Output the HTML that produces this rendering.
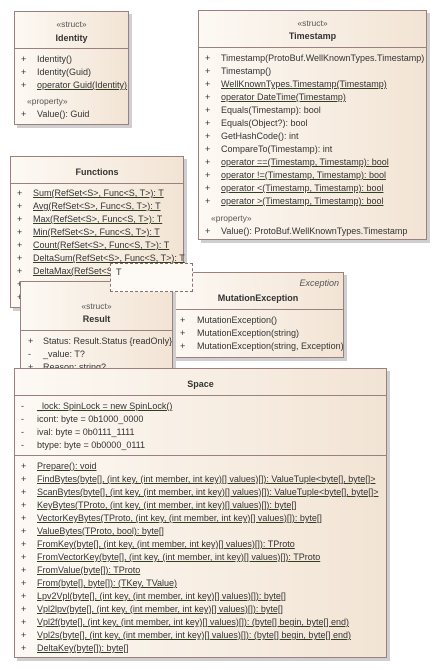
<!DOCTYPE html>
<html><head><meta charset="utf-8"><style>
body{margin:0;width:438px;height:669px;background:#fff;position:relative;overflow:hidden;font-family:"Liberation Sans",sans-serif;font-size:9px;color:#333;}
.b{position:absolute;border:1px solid #9a8080;background:linear-gradient(to right,#fdf9f4,#f2e4d4);box-shadow:3px 3px 0 #cfcfcf;box-sizing:border-box;}
.d{position:absolute;left:0;right:0;height:0;border-top:1px solid #9a8080;}
.r{position:absolute;line-height:13px;white-space:nowrap;}
.u{text-decoration:underline;text-decoration-color:#2f3f1f;}
.c{position:absolute;left:0;right:0;text-align:center;line-height:13px;white-space:nowrap;}
.bold{font-weight:bold;}
.st{color:#555;font-size:8.5px;}
</style></head><body>

<!-- Identity -->
<div class="b" style="left:14px;top:11px;width:115px;height:114px;">
<div class="c st" style="top:6px">«struct»</div>
<div class="c bold" style="top:20px">Identity</div>
<div class="d" style="top:36px"></div>
<div class="r" style="left:6px;top:41px">+</div><div class="r" style="left:22px;top:41px">Identity()</div>
<div class="r" style="left:6px;top:54px">+</div><div class="r" style="left:22px;top:54px">Identity(Guid)</div>
<div class="r" style="left:6px;top:67px">+</div><div class="r u" style="left:22px;top:67px">operator Guid(Identity)</div>
<div class="r st" style="left:12px;top:83px">«property»</div>
<div class="r" style="left:6px;top:96px">+</div><div class="r" style="left:22px;top:96px">Value(): Guid</div>
</div>

<!-- Timestamp -->
<div class="b" style="left:198px;top:10px;width:229px;height:230px;">
<div class="c st" style="top:6px">«struct»</div>
<div class="c bold" style="top:19px">Timestamp</div>
<div class="d" style="top:36px"></div>
<div class="r" style="left:6px;top:41px">+</div><div class="r" style="left:22px;top:41px">Timestamp(ProtoBuf.WellKnownTypes.Timestamp)</div>
<div class="r" style="left:6px;top:54px">+</div><div class="r" style="left:22px;top:54px">Timestamp()</div>
<div class="r" style="left:6px;top:67px">+</div><div class="r u" style="left:22px;top:67px">WellKnownTypes.Timestamp(Timestamp)</div>
<div class="r" style="left:6px;top:80px">+</div><div class="r u" style="left:22px;top:80px">operator DateTime(Timestamp)</div>
<div class="r" style="left:6px;top:93px">+</div><div class="r" style="left:22px;top:93px">Equals(Timestamp): bool</div>
<div class="r" style="left:6px;top:106px">+</div><div class="r" style="left:22px;top:106px">Equals(Object?): bool</div>
<div class="r" style="left:6px;top:119px">+</div><div class="r" style="left:22px;top:119px">GetHashCode(): int</div>
<div class="r" style="left:6px;top:132px">+</div><div class="r" style="left:22px;top:132px">CompareTo(Timestamp): int</div>
<div class="r" style="left:6px;top:145px">+</div><div class="r u" style="left:22px;top:145px">operator ==(Timestamp, Timestamp): bool</div>
<div class="r" style="left:6px;top:158px">+</div><div class="r u" style="left:22px;top:158px">operator !=(Timestamp, Timestamp): bool</div>
<div class="r" style="left:6px;top:171px">+</div><div class="r u" style="left:22px;top:171px">operator &lt;(Timestamp, Timestamp): bool</div>
<div class="r" style="left:6px;top:184px">+</div><div class="r u" style="left:22px;top:184px">operator &gt;(Timestamp, Timestamp): bool</div>
<div class="r st" style="left:12px;top:201px">«property»</div>
<div class="r" style="left:6px;top:214px">+</div><div class="r" style="left:22px;top:214px">Value(): ProtoBuf.WellKnownTypes.Timestamp</div>
</div>

<!-- Functions -->
<div class="b" style="left:10px;top:156px;width:174px;height:152px;">
<div class="c bold" style="top:9px">Functions</div>
<div class="d" style="top:26px"></div>
<div class="r" style="left:6px;top:30px">+</div><div class="r u" style="left:22px;top:30px">Sum(RefSet&lt;S&gt;, Func&lt;S, T&gt;): T</div>
<div class="r" style="left:6px;top:43px">+</div><div class="r u" style="left:22px;top:43px">Avg(RefSet&lt;S&gt;, Func&lt;S, T&gt;): T</div>
<div class="r" style="left:6px;top:56px">+</div><div class="r u" style="left:22px;top:56px">Max(RefSet&lt;S&gt;, Func&lt;S, T&gt;): T</div>
<div class="r" style="left:6px;top:69px">+</div><div class="r u" style="left:22px;top:69px">Min(RefSet&lt;S&gt;, Func&lt;S, T&gt;): T</div>
<div class="r" style="left:6px;top:82px">+</div><div class="r u" style="left:22px;top:82px">Count(RefSet&lt;S&gt;, Func&lt;S, T&gt;): T</div>
<div class="r" style="left:6px;top:95px">+</div><div class="r u" style="left:22px;top:95px">DeltaSum(RefSet&lt;S&gt;, Func&lt;S, T&gt;): T</div>
<div class="r" style="left:6px;top:108px">+</div><div class="r u" style="left:22px;top:108px">DeltaMax(RefSet&lt;S&gt;, Func&lt;S, T&gt;): T</div>
<div class="r" style="left:6px;top:121px">+</div>
<div class="r" style="left:6px;top:134px">+</div>
</div>

<!-- MutationException -->
<div class="b" style="left:172px;top:272px;width:172px;height:86px;">
<div class="r" style="right:4px;top:4px;font-style:italic;color:#555">Exception</div>
<div class="c bold" style="top:19px">MutationException</div>
<div class="d" style="top:36px"></div>
<div class="r" style="left:7px;top:41px">+</div><div class="r" style="left:24px;top:41px">MutationException()</div>
<div class="r" style="left:7px;top:54px">+</div><div class="r" style="left:24px;top:54px">MutationException(string)</div>
<div class="r" style="left:7px;top:67px">+</div><div class="r" style="left:24px;top:67px">MutationException(string, Exception)</div>
</div>

<!-- Result -->
<div class="b" style="left:20px;top:281px;width:153px;height:100px;">
<div class="c st" style="top:18px">«struct»</div>
<div class="c bold" style="top:31px">Result</div>
<div class="d" style="top:48px"></div>
<div class="r" style="left:7px;top:53px">+</div><div class="r" style="left:22px;top:53px">Status: Result.Status {readOnly}</div>
<div class="r" style="left:7px;top:66px">-</div><div class="r" style="left:22px;top:66px">_value: T?</div>
<div class="r" style="left:7px;top:79px">+</div><div class="r" style="left:22px;top:79px">Reason: string?</div>
</div>

<!-- T template -->
<div style="position:absolute;left:110px;top:263px;width:83px;height:29px;border:1px dashed #8a7070;background:#fdf9f5;box-sizing:border-box;">
<div class="r" style="left:5px;top:2px">T</div>
</div>

<!-- Space -->
<div class="b" style="left:14px;top:368px;width:373px;height:290px;">
<div class="c bold" style="top:9px">Space</div>
<div class="d" style="top:26px"></div>
<div class="r" style="left:6px;top:31px">-</div><div class="r u" style="left:22px;top:31px">_lock: SpinLock = new SpinLock()</div>
<div class="r" style="left:6px;top:44px">-</div><div class="r" style="left:22px;top:44px">icont: byte = 0b1000_0000</div>
<div class="r" style="left:6px;top:57px">-</div><div class="r" style="left:22px;top:57px">ival: byte = 0b0111_1111</div>
<div class="r" style="left:6px;top:70px">-</div><div class="r" style="left:22px;top:70px">btype: byte = 0b0000_0111</div>
<div class="d" style="top:86px"></div>
<div class="r" style="left:6px;top:91px">+</div><div class="r u" style="left:22px;top:91px">Prepare(): void</div>
<div class="r" style="left:6px;top:104px">+</div><div class="r u" style="left:22px;top:104px">FindBytes(byte[], (int key, (int member, int key)[] values)[]): ValueTuple&lt;byte[], byte[]&gt;</div>
<div class="r" style="left:6px;top:117px">+</div><div class="r u" style="left:22px;top:117px">ScanBytes(byte[], (int key, (int member, int key)[] values)[]): ValueTuple&lt;byte[], byte[]&gt;</div>
<div class="r" style="left:6px;top:130px">+</div><div class="r u" style="left:22px;top:130px">KeyBytes(TProto, (int key, (int member, int key)[] values)[]): byte[]</div>
<div class="r" style="left:6px;top:143px">+</div><div class="r u" style="left:22px;top:143px">VectorKeyBytes(TProto, (int key, (int member, int key)[] values)[]): byte[]</div>
<div class="r" style="left:6px;top:156px">+</div><div class="r u" style="left:22px;top:156px">ValueBytes(TProto, bool): byte[]</div>
<div class="r" style="left:6px;top:169px">+</div><div class="r u" style="left:22px;top:169px">FromKey(byte[], (int key, (int member, int key)[] values)[]): TProto</div>
<div class="r" style="left:6px;top:182px">+</div><div class="r u" style="left:22px;top:182px">FromVectorKey(byte[], (int key, (int member, int key)[] values)[]): TProto</div>
<div class="r" style="left:6px;top:195px">+</div><div class="r u" style="left:22px;top:195px">FromValue(byte[]): TProto</div>
<div class="r" style="left:6px;top:208px">+</div><div class="r u" style="left:22px;top:208px">From(byte[], byte[]): (TKey, TValue)</div>
<div class="r" style="left:6px;top:221px">+</div><div class="r u" style="left:22px;top:221px">Lpv2Vpl(byte[], (int key, (int member, int key)[] values)[]): byte[]</div>
<div class="r" style="left:6px;top:234px">+</div><div class="r u" style="left:22px;top:234px">Vpl2lpv(byte[], (int key, (int member, int key)[] values)[]): byte[]</div>
<div class="r" style="left:6px;top:247px">+</div><div class="r u" style="left:22px;top:247px">Vpl2f(byte[], (int key, (int member, int key)[] values)[]): (byte[] begin, byte[] end)</div>
<div class="r" style="left:6px;top:260px">+</div><div class="r u" style="left:22px;top:260px">Vpl2s(byte[], (int key, (int member, int key)[] values)[]): (byte[] begin, byte[] end)</div>
<div class="r" style="left:6px;top:273px">+</div><div class="r u" style="left:22px;top:273px">DeltaKey(byte[]): byte[]</div>
</div>

</body></html>
